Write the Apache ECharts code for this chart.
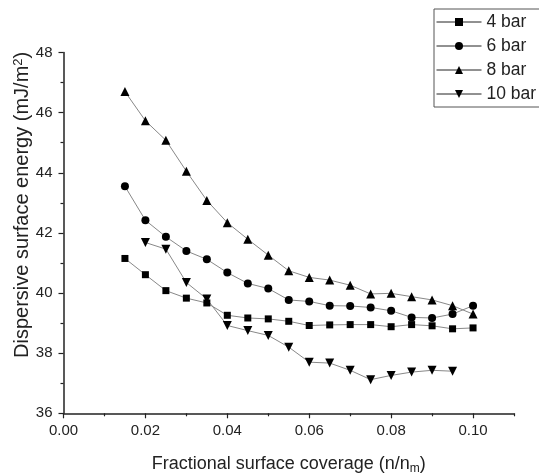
<!DOCTYPE html>
<html>
<head>
<meta charset="utf-8">
<script src="https://cdn.jsdelivr.net/npm/echarts@6/dist/echarts.min.js"></script>
<style>html,body{margin:0;padding:0;background:#fff}#c{width:539px;height:475px}</style>
</head>
<body>
<div id="c"></div>
<script>
var coverage = [0.015,0.02,0.025,0.03,0.035,0.04,0.045,0.05,0.055,0.06,0.065,0.07,0.075,0.08,0.085,0.09,0.095,0.1];
var bar4 = [41.15,40.61,40.08,39.83,39.67,39.26,39.17,39.14,39.06,38.92,38.94,38.95,38.95,38.88,38.95,38.91,38.81,38.84];
var bar6 = [43.55,42.42,41.87,41.40,41.12,40.68,40.32,40.15,39.77,39.72,39.58,39.57,39.52,39.41,39.19,39.17,39.30,39.58];
var bar8 = [46.70,45.73,45.08,44.05,43.08,42.34,41.79,41.26,40.74,40.52,40.43,40.26,39.97,39.99,39.88,39.77,39.58,39.30];
var bar10 = [null,41.68,41.46,40.35,39.80,38.92,38.75,38.59,38.20,37.70,37.67,37.43,37.12,37.26,37.37,37.43,37.40,null];
var seriesNames = ['4 bar','6 bar','8 bar','10 bar'];
var xMajorTicks = [0,0.02,0.04,0.06,0.08,0.10];
var xMinorTicks = [0.01,0.03,0.05,0.07,0.09,0.11];

function pairs(ys){
  var out=[];
  for (var i=0;i<coverage.length;i++){ if (ys[i]!==null) out.push([coverage[i], ys[i]]); }
  return out;
}
var FONT = 'Liberation Sans, Arial, sans-serif';
var TXT = '#222';
var chart = echarts.init(document.getElementById('c'), null, {renderer:'canvas'});
function mk(name, ys, sym, size, rot){
  return {
    name:name, type:'line', data:pairs(ys), symbol:sym, symbolSize:size, symbolRotate:rot||0,
    lineStyle:{color:'#888', width:1}, itemStyle:{color:'#000'}, showAllSymbol:true, animation:false, z:3
  };
}
chart.setOption({
  animation:false,
  backgroundColor:'#fff',
  textStyle:{fontFamily:FONT},
  grid:{left:63.5, right:25, top:52.5, bottom:61.7, containLabel:false, outerBoundsMode:'none'},
  legend:{
    orient:'vertical', left:434, top:9, data:seriesNames,
    itemWidth:45, itemHeight:10, itemGap:6,
    padding:[4,25,4,2],
    borderColor:'#555', borderWidth:1,
    lineStyle:{color:'#222', width:1},
    textStyle:{fontSize:17.5, color:TXT, fontFamily:FONT}
  },
  xAxis:[{
    type:'value', min:0, max:0.11, position:'bottom',
    name:'Fractional surface coverage (n/n{sub|m})', nameLocation:'middle', nameGap:40, nameMoveOverlap:false,
    nameTextStyle:{fontSize:18, color:TXT, fontFamily:FONT, rich:{sub:{fontSize:12, color:TXT, fontFamily:FONT, verticalAlign:'bottom', padding:[9,0,0,0]}}},
    axisLine:{show:true, onZero:false, lineStyle:{color:'#222', width:1.5}},
    axisTick:{show:true, length:5, customValues:xMajorTicks, lineStyle:{color:'#222', width:1.2}},
    axisLabel:{customValues:xMajorTicks, fontSize:15, color:TXT, fontFamily:FONT, margin:10, formatter:function(v){return v.toFixed(2);}},
    splitLine:{show:false}
  },{
    type:'value', min:0, max:0.11, position:'bottom', gridIndex:0,
    axisLine:{show:false},
    axisTick:{show:true, length:3, customValues:xMinorTicks, lineStyle:{color:'#222', width:1.2}},
    axisLabel:{show:false}, splitLine:{show:false}
  }],
  yAxis:{
    type:'value', min:36, max:48, interval:2,
    name:'Dispersive surface energy (mJ/m{sup|2})', nameLocation:'middle', nameGap:30, nameMoveOverlap:false,
    nameTextStyle:{fontSize:20, color:TXT, fontFamily:FONT, padding:[0,0,0,56], rich:{sup:{fontSize:13, color:TXT, fontFamily:FONT, verticalAlign:'top', padding:[0,0,9,0]}}},
    axisLine:{show:true, onZero:false, lineStyle:{color:'#222', width:1.5}},
    axisTick:{show:true, length:5, lineStyle:{color:'#222', width:1.2}},
    minorTick:{show:true, splitNumber:2, length:3, lineStyle:{color:'#222', width:1.2}},
    axisLabel:{fontSize:15, color:TXT, fontFamily:FONT, margin:11},
    splitLine:{show:false}
  },
  series:[
    mk('4 bar', bar4, 'rect', 7),
    mk('6 bar', bar6, 'circle', 8),
    mk('8 bar', bar8, 'triangle', 9),
    mk('10 bar', bar10, 'triangle', 9, 180)
  ]
});
</script>
</body>
</html>
